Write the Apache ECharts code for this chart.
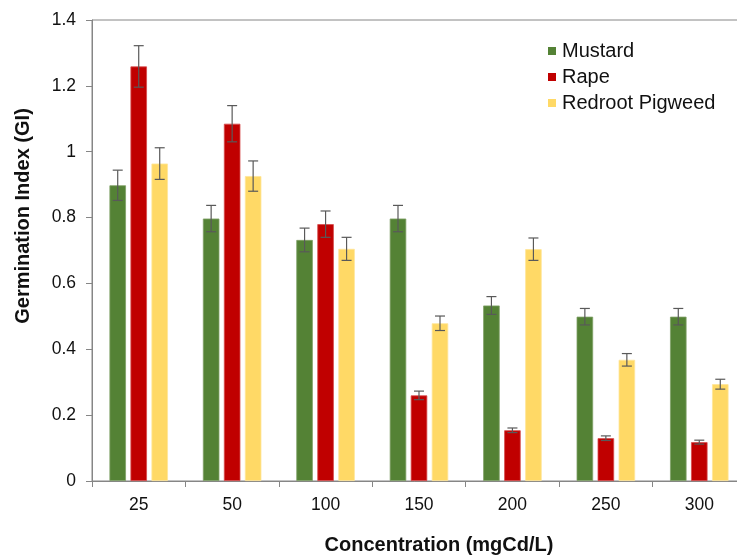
<!DOCTYPE html>
<html>
<head>
<meta charset="utf-8">
<script src="https://cdn.jsdelivr.net/npm/echarts@6/dist/echarts.min.js"></script>
<style>
html,body{margin:0;padding:0;background:#fff;overflow:hidden;}
#chart{width:737px;height:556px;}
</style>
</head>
<body>
<div id="chart"></div>
<script>
const categories = ['25', '50', '100', '150', '200', '250', '300'];
const seriesNames = ['Mustard', 'Rape', 'Redroot Pigweed'];
const mustard = [0.898, 0.797, 0.732, 0.797, 0.533, 0.499, 0.499];
const rape = [1.259, 1.085, 0.780, 0.260, 0.154, 0.130, 0.118];
const pigweed = [0.964, 0.926, 0.705, 0.479, 0.704, 0.368, 0.294];
const mustardErr = [0.046, 0.040, 0.036, 0.040, 0.027, 0.025, 0.025];
const rapeErr = [0.063, 0.055, 0.040, 0.013, 0.007, 0.007, 0.006];
const pigweedErr = [0.048, 0.046, 0.035, 0.022, 0.034, 0.019, 0.015];
const yTicks = { min: 0, max: 1.4, interval: 0.2 };
const xTitle = 'Concentration (mgCd/L)';
const yTitle = 'Germination Index (GI)';

const colors = ['#548235', '#C00000', '#FFD966'];
const edgeColors = ['#7fa066', '#d64a4a', '#ffe699'];
const values = [mustard, rape, pigweed];
const errors = [mustardErr, rapeErr, pigweedErr];
const BAR_W = 16.5, BAR_GAP = 4.5;
const FONT = '"Liberation Sans", Arial, sans-serif';

const chart = echarts.init(document.getElementById('chart'));

const barSeries = values.map((vals, s) => ({
  name: seriesNames[s],
  type: 'bar',
  data: vals,
  barWidth: BAR_W,
  barGap: (BAR_GAP / BAR_W * 100) + '%',
  itemStyle: { color: colors[s], borderColor: edgeColors[s], borderWidth: 0.8 },
  emphasis: { disabled: true },
  z: 2
}));

const errSeries = values.map((vals, s) => ({
  name: seriesNames[s] + ' err',
  type: 'custom',
  data: vals.map((v, i) => [i, v, errors[s][i]]),
  encode: { x: 0, y: 1 },
  z: 5,
  silent: true,
  renderItem: function (params, api) {
    const i = api.value(0), v = api.value(1), e = api.value(2);
    const offset = (s - 1) * (BAR_W + BAR_GAP);
    const x = api.coord([i, v])[0] + offset;
    const yT = api.coord([i, v + e])[1];
    const yB = api.coord([i, v - e])[1];
    const cap = 5;
    const st = { stroke: '#595959', lineWidth: 1.2 };
    return {
      type: 'group',
      children: [
        { type: 'line', shape: { x1: x, y1: yT, x2: x, y2: yB }, style: st },
        { type: 'line', shape: { x1: x - cap, y1: yT, x2: x + cap, y2: yT }, style: st },
        { type: 'line', shape: { x1: x - cap, y1: yB, x2: x + cap, y2: yB }, style: st }
      ]
    };
  }
}));

chart.setOption({
  backgroundColor: '#ffffff',
  animation: false,
  textStyle: { fontFamily: FONT },
  grid: {
    left: 92, top: 20, width: 654, height: 461,
    outerBoundsMode: 'none',
    containLabel: false,
    show: true, borderColor: '#868686', borderWidth: 1, backgroundColor: 'transparent'
  },
  legend: {
    orient: 'vertical',
    left: 543, top: 36,
    itemWidth: 8, itemHeight: 8, itemGap: 6,
    icon: 'rect',
    data: seriesNames,
    itemStyle: { borderWidth: 0 },
    textStyle: { fontSize: 20, color: '#111', fontFamily: FONT, padding: [0, 0, 0, 1] }
  },
  xAxis: {
    type: 'category',
    data: categories,
    axisLine: { lineStyle: { color: '#868686', width: 1 } },
    axisTick: { show: true, inside: false, length: 6, lineStyle: { color: '#868686' } },
    axisLabel: { fontSize: 17.5, color: '#111', margin: 15, fontFamily: FONT },
    splitLine: { show: false }
  },
  yAxis: {
    type: 'value',
    min: yTicks.min, max: yTicks.max, interval: yTicks.interval,
    axisLine: { show: true, lineStyle: { color: '#868686', width: 1 } },
    axisTick: { show: true, inside: false, length: 6, lineStyle: { color: '#868686' } },
    axisLabel: { fontSize: 17.5, color: '#111', margin: 16, fontFamily: FONT },
    splitLine: { show: false }
  },
  graphic: [{
    type: 'text',
    x: 439, y: 545,
    style: { text: xTitle, font: 'bold 20px ' + FONT, fill: '#111', textAlign: 'center', textVerticalAlign: 'middle' }
  }, {
    type: 'text',
    x: 23, y: 216,
    rotation: Math.PI / 2,
    style: { text: yTitle, font: 'bold 20px ' + FONT, fill: '#111', textAlign: 'center', textVerticalAlign: 'middle' }
  }],
  series: barSeries.concat(errSeries)
});
</script>
</body>
</html>
